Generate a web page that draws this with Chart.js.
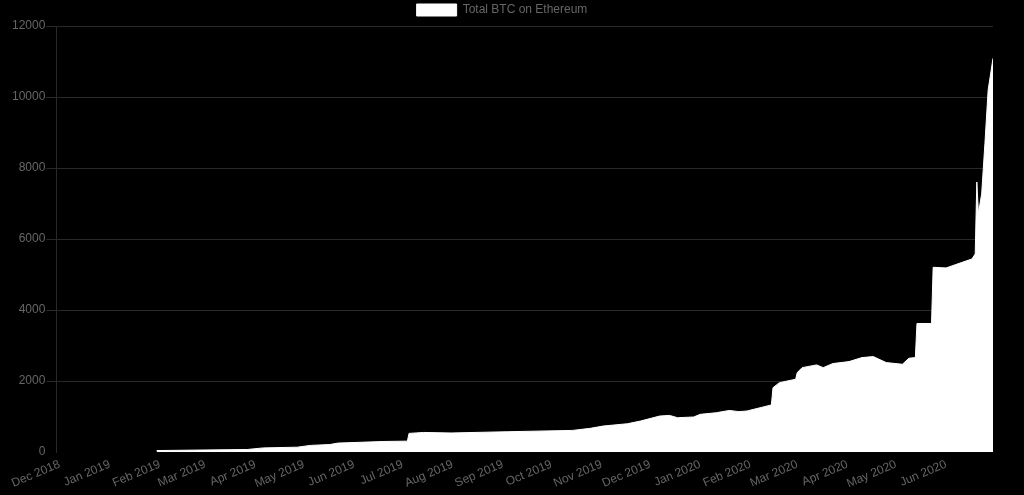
<!DOCTYPE html>
<html>
<head>
<meta charset="utf-8">
<script src="https://cdn.jsdelivr.net/npm/chart.js@4/dist/chart.umd.min.js"></script>
<style>
  html, body { margin: 0; padding: 0; background: #000; }
  #wrap { width: 1024px; height: 495px; }
</style>
</head>
<body>
<div id="wrap"><canvas id="btcChart"></canvas></div>
<script>
// values
const dates = [
  '2019-01-30', '2019-03-27', '2019-04-06', '2019-04-27', '2019-05-05', '2019-05-17',
  '2019-05-22', '2019-06-19', '2019-07-04', '2019-07-05', '2019-07-14', '2019-07-31',
  '2019-09-04', '2019-10-14', '2019-10-25', '2019-11-02', '2019-11-17', '2019-11-25',
  '2019-12-07', '2019-12-13', '2019-12-18', '2019-12-28', '2020-01-01', '2020-01-11',
  '2020-01-19', '2020-01-25', '2020-01-30', '2020-02-07', '2020-02-14', '2020-02-15',
  '2020-02-19', '2020-02-29', '2020-03-01', '2020-03-04', '2020-03-13', '2020-03-17',
  '2020-03-23', '2020-04-02', '2020-04-10', '2020-04-17', '2020-04-25', '2020-05-05',
  '2020-05-09', '2020-05-13', '2020-05-14', '2020-05-23', '2020-05-24', '2020-06-01',
  '2020-06-11', '2020-06-17', '2020-06-19', '2020-06-20', '2020-06-21', '2020-06-23',
  '2020-06-25', '2020-06-27', '2020-06-30'
];
const btcTotals = [
  45, 75, 120, 140, 190, 215,
  255, 300, 310, 528, 555, 540,
  575, 612, 670, 735, 800, 875,
  1017, 1035, 970, 990, 1065, 1110,
  1175, 1140, 1160, 1250, 1330, 1815,
  1957, 2053, 2240, 2380, 2457, 2380,
  2495, 2550, 2663, 2690, 2522, 2475,
  2645, 2663, 3623, 3623, 5205, 5187,
  5346, 5440, 5583, 7605, 6720, 7277,
  8690, 10195, 11090
];
const tickDates = [
  '2018-12-01', '2019-01-01', '2019-02-01', '2019-03-01', '2019-04-01', '2019-05-01',
  '2019-06-01', '2019-07-01', '2019-08-01', '2019-09-01', '2019-10-01', '2019-11-01',
  '2019-12-01', '2020-01-01', '2020-02-01', '2020-03-01', '2020-04-01', '2020-05-01',
  '2020-06-01'
];
const monthNames = ['Jan', 'Feb', 'Mar', 'Apr', 'May', 'Jun', 'Jul', 'Aug', 'Sep', 'Oct', 'Nov', 'Dec'];
const xMin = '2018-11-29';
const xMax = '2020-06-30';

const fontSpec = { family: '"Liberation Sans", Arial, Helvetica, sans-serif', size: 12 };
const gridColor = 'rgba(255,255,255,0.16)';

function monthLabel(value) {
  const d = new Date(value);
  return monthNames[d.getUTCMonth()] + ' ' + d.getUTCFullYear();
}

new Chart(document.getElementById('btcChart'), {
  type: 'line',
  data: {
    datasets: [{
      label: 'Total BTC on Ethereum',
      data: dates.map((d, i) => ({ x: Date.parse(d), y: btcTotals[i] })),
      borderColor: '#fff',
      backgroundColor: '#fff',
      borderWidth: 1,
      pointRadius: 0,
      tension: 0,
      fill: 'origin',
    }],
  },
  options: {
    responsive: true,
    maintainAspectRatio: false,
    animation: false,
    layout: { padding: { left: 11, right: 31, top: 0, bottom: -1 } },
    plugins: {
      legend: {
        labels: { color: '#666', font: fontSpec, boxWidth: 40, boxHeight: 12, padding: 4 },
      },
      tooltip: { enabled: false },
    },
    scales: {
      x: {
        type: 'linear',
        min: Date.parse(xMin),
        max: Date.parse(xMax),
        afterBuildTicks(scale) {
          scale.ticks = tickDates.map(d => ({ value: Date.parse(d) }));
        },
        grid: { display: false, drawTicks: false },
        border: { display: false },
        ticks: {
          autoSkip: false,
          minRotation: 23,
          maxRotation: 23,
          padding: 5,
          color: '#666',
          font: fontSpec,
          callback: monthLabel,
        },
      },
      y: {
        min: 0,
        max: 12000,
        grid: {
          color: ctx => (ctx.tick && ctx.tick.value === 0 ? 'rgba(0,0,0,0)' : gridColor),
          tickLength: 10,
        },
        border: { color: gridColor },
        ticks: { stepSize: 2000, padding: 1, color: '#666', font: fontSpec, callback: v => String(v) },
      },
    },
  },
});
</script>
</body>
</html>
